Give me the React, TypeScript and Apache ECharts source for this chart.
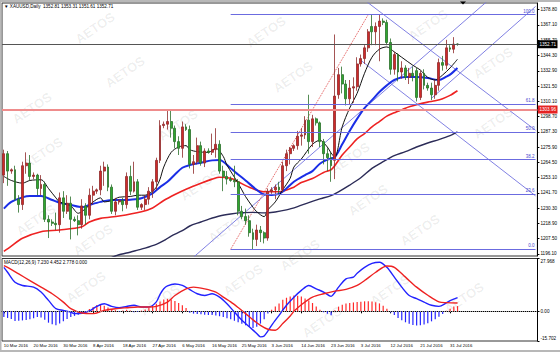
import React, { useEffect, useRef } from 'react';
import * as echarts from 'echarts';

// ---------- data ----------
const totalSlots = 144; // bars incl. empty chart shift on the right
const dateLabels = ['10 Mar 2016', '20 Mar 2016', '30 Mar 2016', '8 Apr 2016', '18 Apr 2016', '27 Apr 2016', '6 May 2016', '16 May 2016', '25 May 2016', '3 Jun 2016', '14 Jun 2016', '23 Jun 2016', '3 Jul 2016', '12 Jul 2016', '21 Jul 2016', '31 Jul 2016'];
const labelEvery = 8;

const opens = [
  1255, 1271, 1258, 1259, 1237, 1233, 1262, 1264, 1254, 1255,
  1245, 1248, 1222, 1220, 1219, 1218, 1238, 1228, 1234, 1222,
  1221, 1218, 1232, 1225, 1240, 1243, 1244, 1258, 1261, 1246,
  1228, 1235, 1236, 1233, 1254, 1243, 1250, 1231, 1233, 1237,
  1243, 1250, 1266, 1292, 1293, 1295, 1290, 1280, 1275, 1291,
  1289, 1263, 1265, 1277, 1264, 1273, 1272, 1274, 1278, 1258,
  1254, 1252, 1251, 1250, 1228, 1224, 1221, 1212, 1207, 1214,
  1212, 1208, 1243, 1244, 1246, 1244, 1262, 1271, 1275, 1277,
  1284, 1285, 1296, 1280, 1297, 1294, 1280, 1271, 1268, 1266,
  1315, 1330, 1323, 1312, 1320, 1321, 1338, 1342, 1350, 1366,
  1362, 1366, 1370, 1369, 1354, 1334, 1345, 1332, 1335, 1328,
  1331, 1333, 1313, 1331, 1322, 1320, 1315, 1322, 1339, 1337,
  1350, 1349, 1352.81,
];
const highs = [
  1274, 1273, 1260, 1262, 1240, 1265, 1272, 1270, 1257, 1256,
  1255, 1250, 1225, 1222, 1227, 1242, 1243, 1240, 1239, 1224,
  1225, 1237, 1234, 1245, 1247, 1245, 1262, 1265, 1263, 1248,
  1238, 1237, 1238, 1257, 1262, 1265, 1252, 1234, 1240, 1246,
  1252, 1268, 1296, 1295, 1304, 1303, 1292, 1284, 1295, 1293,
  1292, 1270, 1283, 1280, 1275, 1275, 1286, 1290, 1281, 1262,
  1258, 1254, 1262, 1252, 1232, 1230, 1225, 1215, 1218, 1217,
  1213, 1245, 1246, 1248, 1250, 1265, 1274, 1276, 1278, 1288,
  1290, 1299, 1315, 1300, 1298, 1295, 1282, 1275, 1272, 1360,
  1335, 1336, 1326, 1326, 1328, 1343, 1345, 1352, 1364, 1375,
  1369, 1375, 1372, 1371, 1357, 1347, 1346, 1340, 1337, 1335,
  1336, 1335, 1333, 1334, 1324, 1324, 1326, 1342, 1344, 1356,
  1352, 1358, 1353.31,
];
const lows = [
  1249, 1247, 1256, 1236, 1227, 1229, 1256, 1251, 1252, 1240,
  1240, 1220, 1208, 1217, 1214, 1212, 1223, 1226, 1207, 1220,
  1210, 1215, 1218, 1222, 1233, 1241, 1240, 1247, 1243, 1226,
  1225, 1233, 1228, 1230, 1240, 1242, 1229, 1229, 1229, 1233,
  1238, 1244, 1264, 1290, 1289, 1283, 1275, 1270, 1268, 1288,
  1260, 1256, 1263, 1262, 1261, 1271, 1270, 1268, 1256, 1243,
  1248, 1250, 1246, 1225, 1222, 1218, 1209, 1199.6, 1202, 1205,
  1204, 1206, 1241, 1237, 1240, 1242, 1258, 1263, 1273, 1274,
  1277, 1282, 1271, 1276, 1292, 1276, 1263, 1258, 1250, 1252,
  1312, 1316, 1307, 1308, 1309, 1318, 1336, 1338, 1347, 1352,
  1352, 1340, 1367, 1352, 1330, 1330, 1325, 1327, 1326, 1323,
  1325, 1310, 1311, 1319, 1318, 1311, 1312, 1318, 1333, 1334,
  1347, 1346, 1351.61,
];
const closes = [
  1271, 1258, 1259, 1237, 1233, 1262, 1264, 1254, 1255, 1245,
  1248, 1222, 1220, 1219, 1218, 1238, 1228, 1234, 1222, 1221,
  1218, 1232, 1225, 1240, 1243, 1244, 1258, 1261, 1246, 1228,
  1235, 1236, 1233, 1254, 1243, 1250, 1231, 1233, 1237, 1243,
  1250, 1266, 1292, 1293, 1295, 1290, 1280, 1275, 1291, 1289,
  1263, 1265, 1277, 1264, 1273, 1272, 1274, 1278, 1258, 1254,
  1252, 1251, 1250, 1228, 1224, 1221, 1212, 1207, 1214, 1212,
  1208, 1243, 1244, 1246, 1244, 1262, 1271, 1275, 1277, 1284,
  1285, 1296, 1280, 1297, 1294, 1280, 1271, 1268, 1262, 1314,
  1330, 1323, 1312, 1320, 1321, 1338, 1342, 1350, 1362, 1362,
  1366, 1370, 1369, 1354, 1334, 1345, 1332, 1335, 1328, 1331,
  1329, 1313, 1331, 1322, 1320, 1315, 1322, 1339, 1337, 1350,
  1349, 1352.8, 1352.71,
];

// moving averages: [bar, price]
const maBlack = [[0,1254],[2,1251],[5,1249],[7,1251],[10,1251.5],[12,1245],[14,1238],[15,1235],[18,1232],[20,1226.5],[22,1230],[24,1235],[26,1238],[27,1235],[29,1236],[31,1238.5],[34,1239],[36,1240],[38,1240],[40,1243],[41,1246],[42,1252],[43,1261],[45,1272],[47,1276],[49,1277],[50,1274],[52,1272.5],[55,1272],[57,1275],[59,1269],[60,1262.5],[63,1249],[65,1239],[67,1231],[68,1227.7],[70,1224],[71,1229],[73,1235],[75,1244],[77,1252.6],[78,1261],[80,1267],[83,1278],[85,1281],[87,1276],[88,1271.5],[89,1268.5],[91,1291],[93,1305],[95,1316],[97,1331],[99,1343],[101,1349],[103,1350.7],[105,1347],[107,1343],[110,1337],[112,1333.5],[114,1328],[116,1326],[118,1329.7],[120,1335],[122,1341.5]];
const maBlue = [[0,1230],[2,1235],[5,1238.4],[7,1239.4],[10,1239.4],[13,1236.4],[15,1234.4],[18,1232.7],[21,1231],[23,1232.7],[26,1235],[29,1236.4],[32,1236.4],[34,1236.6],[37,1237.7],[40,1241.4],[42,1246],[44,1250],[46,1255.5],[48,1260.5],[50,1262.5],[53,1264.3],[56,1266],[58,1266.3],[61,1260.1],[63,1255.5],[65,1251],[68,1244],[70,1240.5],[72,1240.2],[74,1241],[76,1245],[78,1250],[81,1255],[83,1258],[85,1263.5],[87,1266.5],[89,1268.5],[91,1278],[93,1288],[95,1297],[97,1305],[99,1311],[101,1317],[103,1322],[105,1326],[108,1328.2],[111,1328.2],[114,1327.5],[116,1326.3],[117,1326],[119,1328.5],[120,1330],[122,1335]];
const maRed = [[0,1198],[2,1202],[5,1207.8],[10,1212.7],[15,1214],[21,1216.5],[23,1220],[26,1222.7],[31,1224.5],[37,1227.7],[40,1230.5],[43,1236],[46,1240.5],[49,1244.5],[53,1249],[56,1252],[58,1253.4],[61,1252.6],[63,1250],[66,1246],[70,1242.6],[74,1242.6],[78,1246],[80,1249.5],[83,1252.5],[86,1257],[88,1259],[89,1262],[91,1270],[93,1276],[95,1282],[97,1286],[99,1291],[101,1295],[103,1299],[105,1301.5],[108,1305],[111,1307.5],[114,1309.5],[116,1310.5],[118,1312],[120,1314.5],[122,1318]];
const maNavy = [[29,1193.5],[31,1195.5],[33,1196.8],[36,1199],[38,1200.5],[41,1203.3],[43,1206],[45,1209.5],[48,1213.5],[50,1217],[53,1220],[55,1222],[58,1224.5],[61,1226],[64,1227],[67,1227.2],[70,1226.8],[73,1227.5],[76,1229],[79,1231.5],[82,1234.5],[85,1237.2],[88,1239.7],[90,1242.5],[93,1247.5],[96,1253],[99,1260],[102,1265],[105,1269.5],[108,1272.5],[111,1276],[114,1279],[117,1281.5],[120,1284.5],[122,1287.3]];

// MACD(12,26,9)
const macdMain = [[0,23.3],[1,20.7],[3,15.4],[5,13.7],[8,12.8],[10,10.2],[12,5.8],[14,1.4],[16,0.5],[18,-0.4],[19,-1.2],[21,-1.0],[23,0.2],[25,2.6],[27,4.0],[29,2.6],[31,1.9],[33,2.6],[35,3.2],[37,2.3],[39,2.3],[41,5],[42,9],[43,12],[44,13.5],[46,14.5],[48,13.7],[50,11.5],[52,9.3],[54,8.4],[56,9.3],[58,7.5],[60,4.0],[62,-0.4],[64,-4.7],[66,-8.2],[68,-11.7],[69,-13.5],[70,-13],[72,-7.4],[74,-2.1],[76,3.2],[78,7.5],[80,11.1],[82,13.7],[84,11.9],[86,10.2],[88,7.9],[89,10],[90,12.8],[92,17.2],[94,18.1],[95,20.2],[97,23.3],[99,25.4],[101,26.0],[103,23.3],[105,18.1],[107,12.8],[109,8.4],[111,6.7],[113,4.9],[115,3.2],[117,2.6],[119,4.5],[120,5.7],[122,7.23]];
const macdSignal = [[0,24.2],[1,23.3],[4,19.8],[7,16.3],[10,12.8],[13,9.3],[16,4.9],[18,1.4],[21,-0.9],[24,-1.2],[27,0.5],[30,1.4],[33,1.9],[36,2.3],[39,2.3],[41,2.6],[44,4.9],[46,8.4],[49,11.9],[51,12.8],[54,11.9],[57,10.2],[59,7.5],[61,5.0],[63,2.0],[65,-1.2],[67,-4.5],[69,-7.4],[71,-9.5],[73,-10.0],[75,-6.5],[77,-2.5],[78,0],[80,3.5],[83,7.5],[86,9.3],[89,10.7],[92,11.6],[95,13.7],[97,16.3],[100,20.7],[103,24.0],[105,23.3],[108,18.1],[111,12.8],[114,8.5],[117,5.0],[119,4.6],[122,4.452]];
const macdHist = [
  -3.0, -3.5, -4.0, -5.1, -5.0, -4.8, -4.6, -4.2, -3.6, -3.0,
  -3.2, -4.5, -6.0, -6.8, -7.4, -6.5, -5.2, -4.0, -3.0, -2.4,
  -1.8, -1.2, -0.6, 1.2, 2.3, 3.3, 3.7, 3.0, 2.0, 1.0,
  0.6, -0.4, 0.5, 0.8, 0.4, -0.5, -0.3, 0.4, 1.0, 1.8,
  2.8, 4.0, 5.2, 6.2, 6.6, 6.3, 5.5, 4.4, 3.2, 1.8,
  -0.8, -1.2, -1.4, -1.6, -1.8, -2.0, -1.9, -2.2, -2.6, -3.0,
  -3.6, -4.2, -5.0, -5.8, -6.6, -7.4, -8.2, -8.8, -8.2, -6.5,
  -4.2, -1.2, 0.8, 2.6, 4.2, 6.1, 7.2, 7.9, 8.4, 8.2,
  7.9, 6.8, 5.8, 4.4, 2.6, 0.8, -0.5, -1.3, -2.1, 0.6,
  2.5, 3.5, 4.2, 4.4, 4.7, 4.9, 5.1, 5.3, 5.3, 5.2,
  4.8, 4.2, 2.9, 1.4, -0.6, -2.0, -3.5, -4.7, -5.8, -6.6,
  -7.2, -7.5, -7.4, -7.0, -6.3, -5.3, -4.2, -2.8, -1.4, 0.3,
  1.4, 2.6, 2.778,
];

const priceTicks = [1196.1, 1207.5, 1218.9, 1230.3, 1241.7, 1253.1, 1264.5, 1275.9, 1287.3, 1298.7, 1310.1, 1321.5, 1332.9, 1344.3, 1355.7, 1367.1, 1378.8];
const macdTicks = [-15.702, 0, 27.968];
const lastPrice = 1352.71;
const levelPrice = 1303.96;
const fibNames = ['0.0', '23.6', '38.2', '50.0', '61.8', '100.0'];
const fibPrices = [1199.6, 1240.9, 1266.5, 1287.2, 1307.9, 1374.8];
const fibBars = [61, 143];
const fibTrend = [[61, 1199.6], [98, 1374.8]];
const trendLines = [
  [[51, 1193.7], [130, 1384.8]],
  [[115, 1312.3], [143, 1380.9]],
  [[97, 1385.7], [143, 1288.5]],
  [[96, 1340.7], [143, 1239.5]],
];
const headerText = '\u25BC XAUUSD,Daily  1352.81 1353.31 1351.61 1352.71';
const macdHeader = 'MACD(12,26,9) 7.230 4.452 2.778 0.000';

// watermark layout (pixels)
const wmCenters = [[95,28],[125,72],[32,108],[43,153],[178,125],[266,32],[293,77],[93,240],[36,220],[228,227],[350,158],[368,200],[428,25],[493,63],[493,123],[420,230],[243,280],[86,287],[464,298],[322,322],[200,185],[300,255],[160,300],[390,290]];

const FONT = 'Liberation Sans';

export default function App() {
  const ref = useRef<HTMLDivElement>(null);
  useEffect(() => {
    if (!ref.current) return;
    const chart = echarts.init(ref.current, undefined, { renderer: 'svg' });
    const categories = Array.from({ length: totalSlots }, (_, i) => String(i));
    const candleData = opens.map((o, i) => [o, closes[i], lows[i], highs[i]]);
    const labelInterval = (idx: number) => idx % labelEvery === 0 && idx / labelEvery < dateLabels.length;

    const maSeries = (data: number[][], color: string, width: number) => ({
      type: 'line', xAxisIndex: 0, yAxisIndex: 0, data, showSymbol: false, symbol: 'none',
      smooth: 0.3, clip: true, silent: true, z: 3,
      lineStyle: { color, width },
    });
    const segSeries = (data: number[][], color: string, width: number, type = 'solid') => ({
      type: 'line', xAxisIndex: 0, yAxisIndex: 0, data, showSymbol: false, symbol: 'none',
      clip: true, silent: true, z: 2,
      lineStyle: { color, width, type },
    });

    const fibMarks = fibPrices.map((p, i) => [
      {
        coord: [fibBars[0], p],
        lineStyle: { color: '#6b6be0', width: 1, type: 'solid' },
        label: { show: true, position: 'insideEndTop', formatter: fibNames[i], color: '#4a4ad0', fontSize: 4.5, distance: 1, fontFamily: FONT },
      },
      { coord: [fibBars[1], p] },
    ]);

    const graphics: any[] = [];
    wmCenters.forEach(([x, y]) => {
      graphics.push({
        type: 'text', x, y, rotation: 0.6, silent: true, z: -10,
        style: { text: 'AETOS', fill: 'rgba(0,0,0,0.07)', fontSize: 13, fontWeight: 'bold', fontFamily: FONT, align: 'center', verticalAlign: 'middle' },
      });
    });
    graphics.push(
      { type: 'rect', shape: { x: 0, y: 0, width: 560, height: 2 }, style: { fill: '#b8b8b8' }, silent: true },
      { type: 'rect', shape: { x: 0, y: 0, width: 1.5, height: 352 }, style: { fill: '#b8b8b8' }, silent: true },
      { type: 'rect', shape: { x: 0, y: 350, width: 560, height: 2 }, style: { fill: '#b8b8b8' }, silent: true },
      { type: 'text', x: 4, y: 6.5, style: { text: headerText, fill: '#000', fontSize: 4.6, fontFamily: FONT, verticalAlign: 'middle' }, silent: true },
      { type: 'text', x: 4, y: 262, style: { text: macdHeader, fill: '#000', fontSize: 4.6, fontFamily: FONT, verticalAlign: 'middle' }, silent: true },
      { type: 'polygon', shape: { points: [[460, 1.5], [466, 1.5], [463, 4.5]] }, style: { fill: '#000' }, silent: true },
    );

    const option: any = {
      animation: false,
      backgroundColor: '#ffffff',
      textStyle: { fontFamily: FONT },
      grid: [
        { left: 2, top: 3, width: 535.5, height: 253, show: true, borderColor: '#333', borderWidth: 1, backgroundColor: 'transparent' },
        { left: 2, top: 258.5, width: 535.5, height: 82.5, show: true, borderColor: '#333', borderWidth: 1, backgroundColor: 'transparent' },
      ],
      xAxis: [
        {
          gridIndex: 0, type: 'category', data: categories, boundaryGap: true,
          axisLine: { show: false }, axisTick: { show: false }, axisLabel: { show: false }, splitLine: { show: false },
        },
        {
          gridIndex: 1, type: 'category', data: categories, boundaryGap: true,
          axisLine: { show: true, lineStyle: { color: '#000', width: 1 } },
          axisTick: { show: true, alignWithLabel: true, interval: labelInterval, length: 2, lineStyle: { color: '#000' } },
          axisLabel: {
            show: true, interval: labelInterval, align: 'left', margin: 2.5, color: '#000', fontSize: 4.3, fontFamily: FONT,
            formatter: (_v: string, idx: number) => dateLabels[idx / labelEvery] ?? '',
          },
          splitLine: { show: false },
        },
      ],
      yAxis: [
        {
          gridIndex: 0, type: 'value', position: 'right', min: 1194.6, max: 1383.5, scale: true,
          axisLine: { show: true, lineStyle: { color: '#000' } },
          axisTick: { show: true, length: 2, customValues: priceTicks, lineStyle: { color: '#000' } },
          axisLabel: { show: true, customValues: priceTicks, formatter: (v: number) => v.toFixed(2), color: '#000', fontSize: 4.6, margin: 3, fontFamily: FONT },
          splitLine: { show: false },
        },
        {
          gridIndex: 1, type: 'value', position: 'right', min: -15.702, max: 27.968,
          axisLine: { show: true, lineStyle: { color: '#000' } },
          axisTick: { show: true, length: 2, customValues: macdTicks, lineStyle: { color: '#000' } },
          axisLabel: {
            show: true, customValues: macdTicks, color: '#000', fontSize: 4.6, margin: 3, fontFamily: FONT,
            formatter: (v: number) => (v === 0 ? '0.00' : v.toFixed(3)),
            verticalAlignMaxLabel: 'top', verticalAlignMinLabel: 'bottom',
          },
          splitLine: { show: false },
        },
      ],
      series: [
        // trend lines
        ...trendLines.map((seg) => segSeries(seg, '#7373e0', 0.9)),
        segSeries(fibTrend, '#e05050', 1, 'dotted'),
        {
          type: 'candlestick', xAxisIndex: 0, yAxisIndex: 0, data: candleData, barWidth: 2.4, z: 4, silent: true,
          itemStyle: { color: '#cf2a2a', color0: '#2fa82f', borderColor: '#8e2a2a', borderColor0: '#2a6e2a', borderWidth: 0.8 },
          markLine: {
            silent: true, symbol: ['none', 'none'], animation: false, precision: 2,
            data: [
              ...fibMarks,
              {
                yAxis: levelPrice,
                lineStyle: { color: '#ef8c8c', width: 2, type: 'solid' },
                label: { show: true, position: 'end', formatter: levelPrice.toFixed(2), backgroundColor: '#e52222', color: '#fff', fontSize: 4.6, padding: [1.5, 1.5], distance: 0.5, fontFamily: FONT },
              },
              {
                yAxis: lastPrice,
                lineStyle: { color: '#555', width: 1, type: 'solid' },
                label: { show: true, position: 'end', formatter: lastPrice.toFixed(2), backgroundColor: '#000', color: '#fff', fontSize: 4.6, padding: [1.5, 1.5], distance: 0.5, fontFamily: FONT },
              },
            ],
          },
        },
        maSeries(maNavy, '#2c2c58', 1.4),
        maSeries(maRed, '#ee2222', 1.6),
        maSeries(maBlue, '#1a2ee6', 2),
        maSeries(maBlack, '#111111', 1),
        // MACD panel
        {
          type: 'bar', xAxisIndex: 1, yAxisIndex: 1, barWidth: 1.2, silent: true,
          data: macdHist.map((v) => ({ value: v, itemStyle: { color: v >= 0 ? '#ff2a2a' : '#2424ff' } })),
          markLine: {
            silent: true, symbol: ['none', 'none'],
            data: [{ yAxis: 0, lineStyle: { color: '#999', width: 1, type: 'dotted' }, label: { show: false } }],
          },
        },
        {
          type: 'line', xAxisIndex: 1, yAxisIndex: 1, data: macdMain, showSymbol: false, symbol: 'none', smooth: 0.3, silent: true,
          lineStyle: { color: '#2222ff', width: 1.4 },
        },
        {
          type: 'line', xAxisIndex: 1, yAxisIndex: 1, data: macdSignal, showSymbol: false, symbol: 'none', smooth: 0.3, silent: true,
          lineStyle: { color: '#ee2222', width: 1.4 },
        },
      ],
      graphic: graphics,
    };
    chart.setOption(option);
    return () => chart.dispose();
  }, []);

  return (
    <div style={{ position: 'fixed', left: 0, top: 0, width: 560, height: 352, background: '#fff' }}>
      <div ref={ref} style={{ width: 560, height: 352 }} />
    </div>
  );
}
